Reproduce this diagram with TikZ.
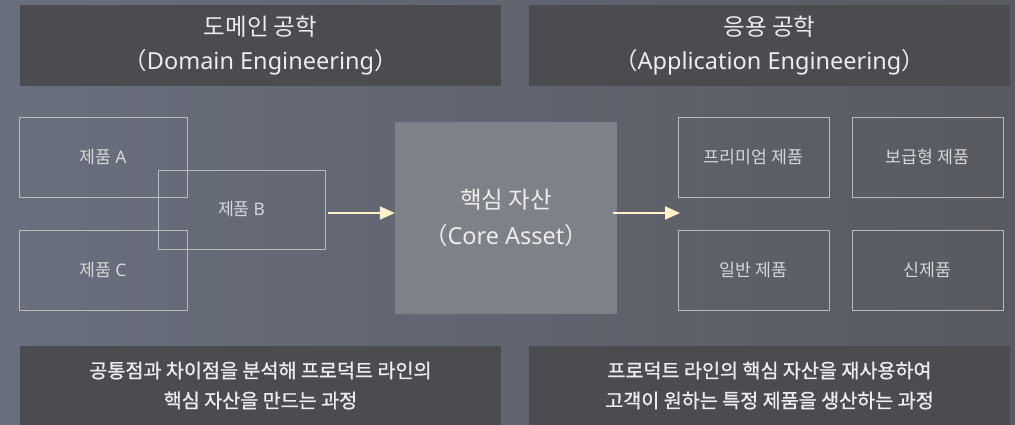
\documentclass[tikz,border=0pt]{standalone}
\usepackage{fontspec}
\setmainfont{Noto Sans CJK KR}
\newfontfamily\latinfont{Noto Sans}
\newfontfamily\descfont{Noto Sans CJK KR}[FakeBold=1]
\newcommand{\lat}[1]{{\latinfont #1}}
\usetikzlibrary{arrows.meta}
\definecolor{bgleft}{RGB}{106,111,126}
\definecolor{bgright}{RGB}{88,90,96}
\definecolor{darkbox}{RGB}{75,76,80}
\definecolor{corefill}{RGB}{127,129,136}
\definecolor{edgegray}{RGB}{185,187,193}
\definecolor{cream}{RGB}{255,241,202}
\definecolor{lighttext}{RGB}{236,236,238}
\definecolor{boxtext}{RGB}{212,214,218}
\begin{document}
\begin{tikzpicture}[x=1pt,y=-1pt,
    headbox/.style={fill=darkbox, text=lighttext, minimum width=481pt, minimum height=81pt,
        inner sep=0pt, align=center, font=\fontsize{23.5}{34}\selectfont},
    descbox/.style={fill=darkbox, text=lighttext, minimum width=481pt, minimum height=79pt,
        inner sep=0pt, align=center, font=\descfont\fontsize{19.6}{30}\selectfont},
    prodbox/.style={draw=edgegray, line width=0.9pt, text=boxtext, minimum height=80pt,
        inner sep=0pt, font=\fontsize{17.3}{20}\selectfont},
    flow/.style={cream, line width=2pt, -{Triangle[length=15pt,width=13pt]}}]
            \useasboundingbox (0,0) rectangle (1015,425);
            \shade[left color=bgleft, right color=bgright] (0,0) rectangle (1015,425);

            %headers
            \node[headbox] (domain) at (260.5,45.5) {도메인 공학\\（\lat{Domain Engineering}）};
            \node[headbox] (application) at (769.5,45.5) {응용 공학\\（\lat{Application Engineering}）};

            %domain products
            \node[prodbox, minimum width=168pt] (prodA) at (103,157) {제품 \lat{A}};
            \node[prodbox, minimum width=168pt] (prodC) at (103,270.5) {제품 \lat{C}};
            \node[prodbox, minimum width=167pt, minimum height=79pt] (prodB) at (241.5,209.5) {제품 \lat{B}};

            %core asset
            \node[fill=corefill, text=lighttext, minimum width=222pt, minimum height=192pt,
                inner sep=0pt, align=center, font=\fontsize{23.5}{36}\selectfont] (core) at (506,218)
                {핵심 자산\\（\lat{Core Asset}）};

            %application products
            \node[prodbox, minimum width=151pt] (premium) at (753.5,157) {프리미엄 제품};
            \node[prodbox, minimum width=151pt] (basic) at (927.5,157) {보급형 제품};
            \node[prodbox, minimum width=151pt] (general) at (753.5,270.5) {일반 제품};
            \node[prodbox, minimum width=151pt] (newprod) at (927.5,270.5) {신제품};

            %arrows
            \coordinate (outtip) at (680,213);
            \draw[flow] ([xshift=3pt,yshift=-3.5pt]prodB.east) -- ([yshift=-3.5pt]prodB.east -| core.west);
            \draw[flow] ([xshift=-4pt,yshift=5pt]core.east) -- (outtip);

            %descriptions
            \node[descbox] (domdesc) at (260.5,385.5) {공통점과 차이점을 분석해 프로덕트 라인의\\핵심 자산을 만드는 과정};
            \node[descbox] (appdesc) at (769.5,385.5) {프로덕트 라인의 핵심 자산을 재사용하여\\고객이 원하는 특정 제품을 생산하는 과정};
        \end{tikzpicture}
\end{document}
